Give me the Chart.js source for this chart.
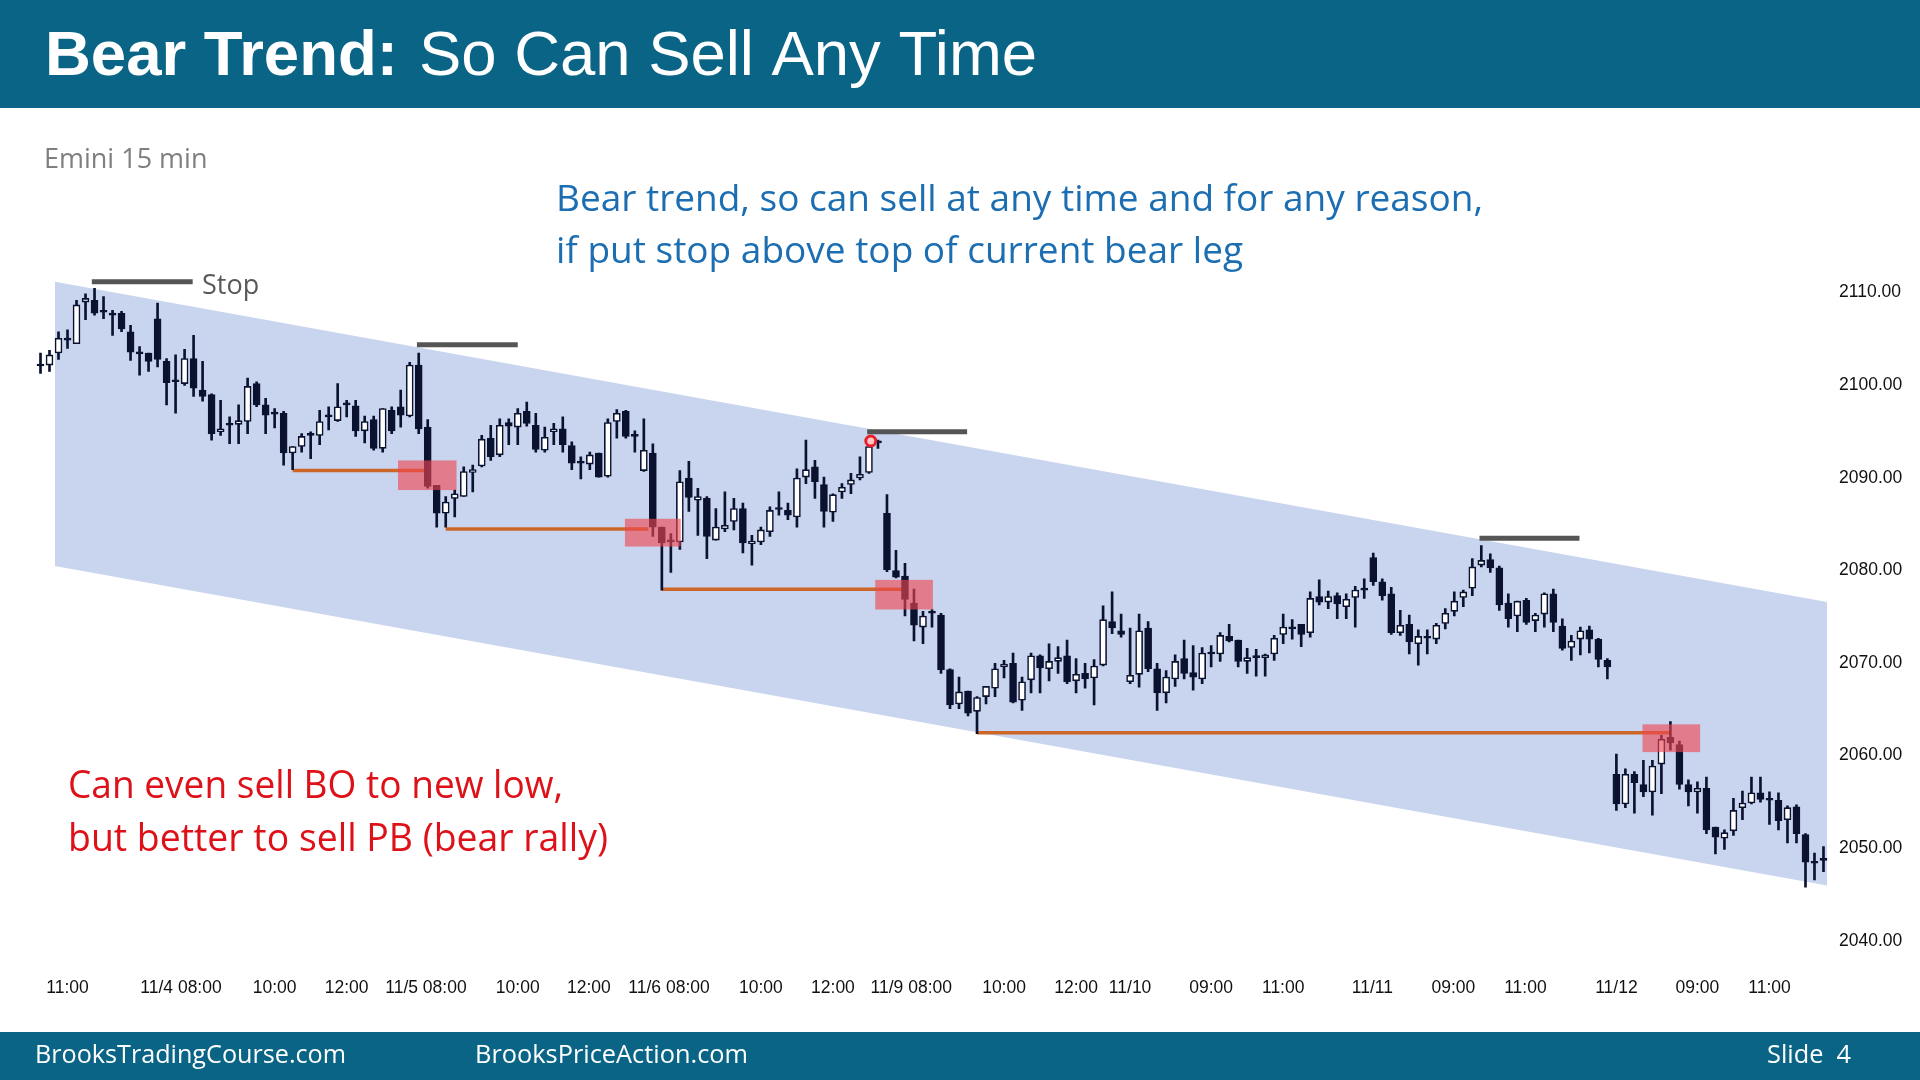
<!DOCTYPE html>
<html>
<head>
<meta charset="utf-8">
<title>Bear Trend: So Can Sell Any Time</title>
<script src="https://cdn.jsdelivr.net/npm/chart.js@4.4.0/dist/chart.umd.min.js"></script>
<style>
  html, body { margin: 0; padding: 0; background: #fff; }
  #wrap { position: relative; width: 1920px; height: 1080px; }
</style>
</head>
<body>
<div id="wrap"><canvas id="slide"></canvas></div>
<script>
// Emini 15 min bars (index = bar number from the left)
const barOpen = [
  2101.8, 2101.9, 2103.2, 2104.6, 2104.2, 2108.7, 2108.9, 2107.6, 2107.5, 2107.5,
  2105.5, 2103.2, 2103.2, 2106.9, 2102.3, 2100.1, 2099.9, 2102.6, 2099.2, 2098.7,
  2094.7, 2095.4, 2095.5, 2095.8, 2099.9, 2097.6, 2096.6, 2096.7, 2092.4, 2093.1,
  2094.3, 2094.3, 2096.3, 2095.9, 2097.6, 2097.5, 2094.8, 2096.0, 2092.9, 2097.0,
  2097.4, 2096.4, 2101.9, 2095.2, 2088.9, 2085.9, 2087.5, 2087.7, 2090.3, 2091.0,
  2094.0, 2092.2, 2095.7, 2095.2, 2096.9, 2095.4, 2092.7, 2094.7, 2095.0, 2093.2,
  2091.3, 2091.2, 2092.4, 2089.9, 2095.8, 2096.9, 2094.2, 2090.5, 2092.4, 2084.4,
  2082.8, 2082.8, 2089.7, 2087.3, 2087.5, 2083.0, 2084.2, 2085.0, 2086.4, 2082.6,
  2082.8, 2083.9, 2086.3, 2086.2, 2085.5, 2089.8, 2090.9, 2089.0, 2086.0, 2088.2,
  2089.0, 2089.7, 2090.3, 2093.5, 2085.9, 2079.7, 2079.1, 2076.2, 2073.6, 2075.1,
  2074.9, 2069.0, 2065.3, 2066.7, 2064.5, 2066.1, 2067.0, 2069.3, 2069.7, 2065.7,
  2067.9, 2070.5, 2069.1, 2069.9, 2070.5, 2067.8, 2068.6, 2068.1, 2069.5, 2074.2,
  2073.2, 2067.7, 2068.5, 2073.5, 2069.1, 2066.5, 2068.0, 2070.2, 2068.7, 2068.0,
  2070.7, 2070.7, 2072.6, 2072.2, 2069.9, 2070.3, 2070.3, 2070.7, 2072.8, 2073.4,
  2073.9, 2073.0, 2076.9, 2076.3, 2077.0, 2075.8, 2076.8, 2077.6, 2081.1, 2078.5,
  2077.2, 2073.0, 2073.9, 2071.8, 2072.4, 2072.3, 2074.0, 2075.3, 2076.8, 2077.8,
  2080.3, 2080.9, 2080.0, 2076.2, 2074.8, 2076.5, 2074.3, 2075.0, 2077.2, 2073.7,
  2071.4, 2072.3, 2073.3, 2072.3, 2070.0, 2057.7, 2054.5, 2057.7, 2056.6, 2055.8,
  2058.8, 2061.7, 2060.9, 2056.6, 2055.8, 2056.2, 2052.0, 2050.8, 2051.6, 2054.1,
  2054.6, 2055.7, 2054.9, 2054.9, 2052.8, 2054.2, 2051.2, 2048.1, 2048.4
];
const barHigh = [
  2103.2, 2103.5, 2105.5, 2105.7, 2108.9, 2109.6, 2110.2, 2109.3, 2107.8, 2107.7,
  2106.2, 2103.9, 2103.2, 2108.6, 2102.6, 2103.0, 2103.6, 2105.1, 2102.3, 2098.8,
  2098.1, 2096.3, 2097.6, 2100.5, 2100.1, 2098.3, 2097.2, 2096.9, 2093.1, 2094.5,
  2094.7, 2097.0, 2097.4, 2099.9, 2098.1, 2098.1, 2096.4, 2096.4, 2097.2, 2097.4,
  2099.2, 2102.2, 2103.2, 2096.0, 2088.9, 2087.7, 2088.4, 2090.9, 2091.1, 2094.3,
  2095.4, 2096.1, 2096.1, 2097.2, 2097.9, 2096.7, 2095.2, 2095.6, 2096.3, 2093.6,
  2092.0, 2092.5, 2092.4, 2096.1, 2097.1, 2097.0, 2094.8, 2096.1, 2093.4, 2084.4,
  2083.7, 2090.5, 2091.5, 2088.6, 2087.7, 2086.4, 2088.2, 2087.5, 2087.0, 2083.5,
  2084.4, 2086.6, 2088.2, 2087.0, 2090.7, 2093.8, 2091.6, 2089.8, 2088.0, 2089.1,
  2090.2, 2092.0, 2094.0, 2093.8, 2087.9, 2081.9, 2080.5, 2077.7, 2075.3, 2075.5,
  2075.1, 2069.1, 2068.2, 2066.7, 2066.1, 2067.2, 2069.7, 2070.0, 2070.8, 2068.2,
  2070.8, 2070.6, 2071.8, 2071.5, 2072.2, 2070.2, 2069.7, 2070.1, 2075.9, 2077.4,
  2075.0, 2073.5, 2075.0, 2074.2, 2069.7, 2068.9, 2070.6, 2072.2, 2071.6, 2071.4,
  2071.6, 2073.0, 2073.9, 2072.2, 2071.3, 2071.2, 2070.7, 2072.7, 2075.0, 2074.4,
  2073.9, 2077.4, 2078.7, 2077.5, 2077.3, 2077.2, 2078.0, 2078.8, 2081.6, 2078.8,
  2077.9, 2075.4, 2074.9, 2073.3, 2073.3, 2074.0, 2075.6, 2077.4, 2077.6, 2081.0,
  2082.4, 2081.5, 2080.2, 2077.2, 2076.4, 2076.7, 2075.1, 2077.3, 2077.7, 2074.5,
  2072.7, 2073.6, 2073.7, 2072.4, 2070.2, 2059.9, 2058.3, 2058.0, 2059.2, 2059.2,
  2061.9, 2063.4, 2061.3, 2057.1, 2056.9, 2057.4, 2052.0, 2051.7, 2055.1, 2055.9,
  2057.4, 2057.4, 2055.8, 2055.7, 2054.3, 2054.4, 2051.3, 2049.2, 2049.9
];
const barLow = [
  2101.0, 2101.2, 2102.5, 2103.7, 2104.2, 2106.8, 2107.3, 2106.9, 2105.1, 2105.5,
  2102.4, 2100.8, 2101.2, 2101.7, 2097.6, 2096.7, 2099.7, 2098.5, 2098.0, 2093.8,
  2094.3, 2093.4, 2093.4, 2094.5, 2097.4, 2094.5, 2095.1, 2091.1, 2090.6, 2092.5,
  2091.8, 2093.3, 2094.9, 2095.8, 2096.3, 2094.2, 2093.5, 2092.7, 2092.5, 2094.5,
  2095.2, 2096.3, 2094.5, 2088.6, 2084.4, 2084.4, 2085.5, 2087.7, 2088.2, 2090.9,
  2091.6, 2092.0, 2093.3, 2093.3, 2095.3, 2092.5, 2092.5, 2093.3, 2092.5, 2090.6,
  2089.6, 2090.6, 2089.8, 2089.8, 2094.0, 2094.0, 2092.5, 2090.4, 2083.4, 2077.6,
  2079.5, 2082.0, 2086.1, 2083.5, 2081.0, 2083.0, 2083.9, 2084.1, 2081.6, 2080.3,
  2082.5, 2083.4, 2085.7, 2085.2, 2084.4, 2089.1, 2087.5, 2084.4, 2085.0, 2087.5,
  2088.0, 2089.5, 2090.2, 2092.9, 2079.6, 2078.9, 2074.8, 2072.1, 2071.8, 2073.6,
  2068.6, 2064.8, 2064.8, 2064.0, 2062.1, 2065.3, 2066.1, 2068.1, 2065.4, 2064.6,
  2066.5, 2066.5, 2067.8, 2068.6, 2067.5, 2066.5, 2067.0, 2065.2, 2069.4, 2072.9,
  2072.5, 2067.5, 2067.1, 2068.8, 2064.6, 2065.4, 2067.2, 2068.0, 2066.8, 2067.5,
  2069.3, 2069.9, 2072.0, 2069.3, 2068.6, 2068.3, 2068.3, 2070.0, 2071.8, 2072.3,
  2071.5, 2072.5, 2076.0, 2075.6, 2074.5, 2074.5, 2073.6, 2076.7, 2078.1, 2076.5,
  2072.8, 2072.7, 2070.7, 2069.5, 2070.7, 2071.8, 2073.4, 2074.8, 2075.8, 2077.0,
  2080.1, 2079.5, 2075.4, 2073.6, 2073.1, 2073.9, 2073.1, 2073.6, 2073.1, 2071.1,
  2070.0, 2070.6, 2070.8, 2069.3, 2068.0, 2053.8, 2054.1, 2053.5, 2055.3, 2053.3,
  2055.6, 2060.3, 2056.1, 2054.3, 2053.5, 2051.3, 2049.1, 2049.6, 2051.1, 2052.8,
  2054.5, 2054.7, 2052.3, 2051.7, 2050.3, 2050.3, 2045.5, 2046.3, 2047.2
];
const barClose = [
  2101.8, 2103.0, 2104.8, 2104.6, 2108.4, 2109.1, 2107.5, 2107.6, 2107.3, 2105.8,
  2103.3, 2103.1, 2102.3, 2102.5, 2100.0, 2100.1, 2102.6, 2099.4, 2098.5, 2094.5,
  2095.0, 2095.4, 2095.9, 2099.6, 2097.6, 2096.5, 2096.6, 2092.4, 2093.1, 2094.2,
  2094.3, 2095.8, 2096.3, 2097.4, 2097.6, 2094.8, 2095.8, 2092.9, 2097.2, 2094.8,
  2096.5, 2101.9, 2095.0, 2088.8, 2085.9, 2087.1, 2088.0, 2090.4, 2090.6, 2093.9,
  2092.0, 2095.4, 2095.3, 2096.7, 2095.6, 2092.8, 2094.1, 2095.0, 2093.3, 2091.3,
  2091.3, 2092.2, 2089.8, 2095.7, 2096.7, 2094.2, 2094.2, 2092.7, 2084.4, 2082.7,
  2082.8, 2089.3, 2087.6, 2087.7, 2083.4, 2084.4, 2084.6, 2086.4, 2082.7, 2082.9,
  2084.1, 2086.2, 2086.3, 2085.7, 2089.7, 2090.6, 2089.3, 2086.1, 2087.9, 2088.7,
  2089.5, 2090.1, 2093.1, 2093.5, 2079.8, 2079.0, 2076.6, 2073.8, 2074.8, 2075.1,
  2069.0, 2065.2, 2066.6, 2064.3, 2066.0, 2067.2, 2069.1, 2069.6, 2065.5, 2067.7,
  2070.5, 2069.2, 2069.9, 2070.3, 2067.7, 2068.5, 2068.0, 2069.4, 2074.4, 2073.5,
  2072.8, 2068.4, 2073.2, 2069.1, 2066.5, 2068.2, 2069.9, 2068.6, 2068.2, 2070.8,
  2070.7, 2072.7, 2072.1, 2069.9, 2070.3, 2070.3, 2070.6, 2072.4, 2073.6, 2073.4,
  2072.8, 2076.7, 2076.3, 2076.9, 2076.1, 2076.6, 2077.6, 2077.6, 2078.5, 2077.0,
  2073.0, 2073.8, 2072.0, 2072.6, 2072.4, 2073.8, 2075.1, 2076.4, 2077.4, 2080.1,
  2080.8, 2080.0, 2076.0, 2074.5, 2076.4, 2074.1, 2074.9, 2077.2, 2074.1, 2071.3,
  2072.1, 2073.2, 2072.3, 2070.1, 2069.3, 2054.5, 2057.7, 2056.8, 2055.8, 2058.6,
  2061.5, 2061.1, 2056.6, 2055.8, 2056.2, 2051.7, 2050.9, 2051.4, 2053.8, 2054.6,
  2055.7, 2055.0, 2054.9, 2052.7, 2054.1, 2051.3, 2048.2, 2048.1, 2048.4
];

// time axis labels (positions in bar units)
const xTickPos = [3, 15.6, 26, 34, 42.8, 53, 60.9, 69.8, 80, 88, 96.7, 107, 115, 121, 130, 138, 147.9, 156.9, 164.9, 175, 184, 192];
const xTickLabels = ['11:00', '11/4 08:00', '10:00', '12:00', '11/5 08:00', '10:00', '12:00', '11/6 08:00', '10:00', '12:00',
  '11/9 08:00', '10:00', '12:00', '11/10', '09:00', '11:00', '11/11', '09:00', '11:00', '11/12', '09:00', '11:00'];
const yTickValues = [2040, 2050, 2060, 2070, 2080, 2090, 2100, 2110];

// channel (bar index, price)
const channelX = [1.6, 198.4];
const channelTop = [2110.9, 2076.3];
const channelBottom = [2080.2, 2045.7];

// support levels (orange) and protective stops (gray)
const levelStart = [28, 45, 69, 104];
const levelEnd = [42.7, 67.5, 95.8, 181];
const levelPrice = [2090.5, 2084.2, 2077.7, 2062.2];
const stopStart = [5.7, 41.8, 91.8, 159.8];
const stopEnd = [16.9, 53.0, 102.9, 170.9];
const stopPrice = [2110.9, 2104.1, 2094.7, 2083.2];

// sell signal boxes
const boxX0 = [39.7, 64.9, 92.7, 177.9];
const boxX1 = [46.2, 71.1, 99.1, 184.3];
const boxLow = [2088.4, 2082.3, 2075.5, 2060.1];
const boxHigh = [2091.6, 2085.3, 2078.7, 2063.1];

const markerX = 92.2;
const markerY = 2093.7;

const TEAL = 'rgb(10,100,134)';
const INK = '#0b1230';
const idx = barOpen.map((_, i) => i);

const datasets = [];

// channel fill
datasets.push({
  type: 'line', data: channelX.map((x, i) => ({ x: x, y: channelTop[i] })),
  borderWidth: 0, pointRadius: 0, fill: false, order: 10
});
datasets.push({
  type: 'line', data: channelX.map((x, i) => ({ x: x, y: channelBottom[i] })),
  borderWidth: 0, pointRadius: 0, fill: '-1', backgroundColor: 'rgb(201,213,238)', order: 10
});

levelPrice.forEach((p, i) => {
  datasets.push({
    type: 'line', data: [{ x: levelStart[i], y: p }, { x: levelEnd[i], y: p }],
    borderColor: 'rgb(204,102,40)', borderWidth: 3.5, pointRadius: 0, order: 5
  });
});
stopPrice.forEach((p, i) => {
  datasets.push({
    type: 'line', data: [{ x: stopStart[i], y: p }, { x: stopEnd[i], y: p }],
    borderColor: '#555555', borderWidth: 5, pointRadius: 0, order: 5
  });
});

// wicks
datasets.push({
  type: 'bar', data: idx.map(i => ({ x: i, y: [barLow[i], barHigh[i]] })),
  backgroundColor: INK, barThickness: 2, grouped: false, order: 3
});
// bodies
datasets.push({
  type: 'bar', data: idx.map(i => ({ x: i, y: [barOpen[i], barClose[i]] })),
  backgroundColor: idx.map(i => barClose[i] > barOpen[i] ? '#ffffff' : INK),
  borderColor: INK, borderWidth: 1.6, borderSkipped: false,
  barThickness: 7, minBarLength: 2, grouped: false, order: 2
});
// click marker
datasets.push({
  type: 'line', data: [{ x: markerX, y: markerY }], showLine: false,
  pointRadius: 5, pointBorderWidth: 3, pointBorderColor: '#e8202a',
  pointBackgroundColor: '#ffc6c6', order: 1
});

function txt(ctx, s, x, y, font, color, maxW, align) {
  ctx.font = font;
  ctx.fillStyle = color;
  ctx.textAlign = align || 'left';
  ctx.textBaseline = 'middle';
  if (maxW) ctx.fillText(s, x, y, maxW); else ctx.fillText(s, x, y);
}

const slidePlugin = {
  id: 'slide',
  beforeDraw(chart) {
    const ctx = chart.ctx;
    ctx.save();
    ctx.fillStyle = '#ffffff';
    ctx.fillRect(0, 0, chart.width, chart.height);
    ctx.fillStyle = TEAL;
    ctx.fillRect(0, 0, chart.width, 108);
    ctx.fillRect(0, 1032, chart.width, 48);
    ctx.restore();
  },
  afterDatasetsDraw(chart) {
    const ctx = chart.ctx, xs = chart.scales.x, ys = chart.scales.y;
    ctx.save();
    ctx.fillStyle = 'rgba(240,70,80,0.62)';
    boxX0.forEach((x0, i) => {
      const l = xs.getPixelForValue(x0), r = xs.getPixelForValue(boxX1[i]);
      const t = ys.getPixelForValue(boxHigh[i]), b = ys.getPixelForValue(boxLow[i]);
      ctx.fillRect(l, t, r - l, b - t);
    });
    ctx.restore();
  },
  afterDraw(chart) {
    const ctx = chart.ctx;
    ctx.save();
    // title
    txt(ctx, 'Bear Trend:', 45, 57.5, 'bold 63.5px "Liberation Sans", Arial, sans-serif', '#ffffff', 355);
    txt(ctx, 'So Can Sell Any Time', 419, 57.5, '63.5px "Liberation Sans", Arial, sans-serif', '#ffffff', 618);
    // chart notes
    txt(ctx, 'Emini 15 min', 44, 160.5, '27px "Open Sans", sans-serif', '#7f7f7f', 169);
    txt(ctx, 'Stop', 202, 286.5, '27px "Open Sans", sans-serif', '#595959', 59);
    const blue = 'rgb(28,110,178)';
    txt(ctx, 'Bear trend, so can sell at any time and for any reason,', 556, 200.5, '37px "Open Sans", sans-serif', blue, 927);
    txt(ctx, 'if put stop above top of current bear leg', 556, 252, '37px "Open Sans", sans-serif', blue, 690);
    const red = 'rgb(222,16,24)';
    txt(ctx, 'Can even sell BO to new low,', 68, 787.5, '37.5px "Open Sans", sans-serif', red, 495);
    txt(ctx, 'but better to sell PB (bear rally)', 68, 840.5, '37.5px "Open Sans", sans-serif', red, 540);
    // footer
    txt(ctx, 'BrooksTradingCourse.com', 35, 1056, '25.5px "Open Sans", sans-serif', '#ffffff', 311);
    txt(ctx, 'BrooksPriceAction.com', 475, 1056, '25.5px "Open Sans", sans-serif', '#ffffff', 273);
    txt(ctx, 'Slide  4', 1851, 1056, '25.5px "Open Sans", sans-serif', '#ffffff', 84, 'right');
    ctx.restore();
  }
};

Chart.defaults.font.family = '"Liberation Sans", Arial, sans-serif';

new Chart(document.getElementById('slide'), {
  type: 'bar',
  data: { datasets: datasets },
  plugins: [slidePlugin],
  options: {
    responsive: true,
    maintainAspectRatio: false,
    animation: false,
    layout: { padding: { top: 234.5, left: 36, right: 2, bottom: 74 } },
    plugins: { legend: { display: false }, tooltip: { enabled: false } },
    scales: {
      x: {
        type: 'linear', min: -0.5, max: 198.5, offset: false,
        grid: { display: false, drawTicks: false }, border: { display: false },
        afterFit(scale) { scale.height = 40; },
        afterBuildTicks(scale) { scale.ticks = xTickPos.map(v => ({ value: v })); },
        ticks: {
          autoSkip: false, maxRotation: 0, padding: 12, color: '#111',
          font: { size: 17.5 },
          callback: (v, i) => xTickLabels[i]
        }
      },
      y: {
        type: 'linear', position: 'right', min: 2037, max: 2116,
        grid: { display: false, drawTicks: false }, border: { display: false },
        afterFit(scale) { scale.width = 90; },
        afterBuildTicks(scale) { scale.ticks = yTickValues.map(v => ({ value: v })); },
        ticks: {
          padding: 11, labelOffset: 2.5, color: '#111', font: { size: 17.5 },
          callback: v => v.toFixed(2)
        }
      }
    }
  }
});
</script>
</body>
</html>
